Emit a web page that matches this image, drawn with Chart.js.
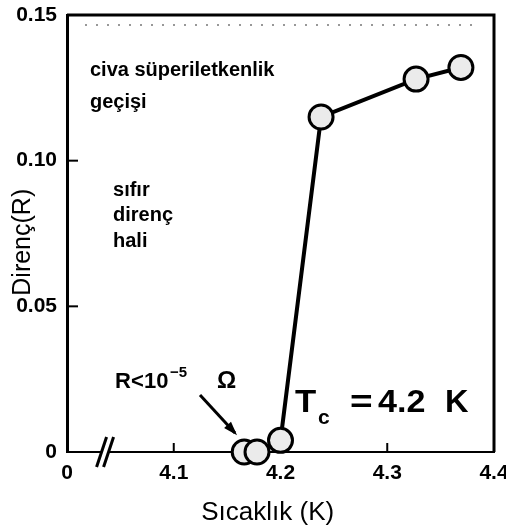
<!DOCTYPE html>
<html><head><meta charset="utf-8">
<script src="https://cdn.jsdelivr.net/npm/chart.js@4/dist/chart.umd.min.js"></script>
<style>html,body{margin:0;padding:0;background:#fff;}#wrap{width:506px;height:527px;}</style>
</head><body><div id="wrap"><canvas id="c" width="506" height="527"></canvas></div>
<script>
const temperatures = [4.166, 4.178, 4.200, 4.238, 4.327, 4.369];
const resistances = [0.000, 0.000, 0.004, 0.115, 0.128, 0.132];
const xTickValues = [4.0, 4.1, 4.2, 4.3, 4.4];
const xTickLabels = ['0', '4.1', '4.2', '4.3', '4.4'];
const yTickValues = [0, 0.05, 0.10, 0.15];
const yTickLabels = ['0', '0.05', '0.10', '0.15'];
const xTitle = 'Sıcaklık (K)';
const yTitle = 'Direnç(R)';
const noteTop = ['civa süperiletkenlik', 'geçişi'];
const noteZero = ['sıfır', 'direnç', 'hali'];

const FONT = "'Liberation Sans', Arial, sans-serif";

function stretched(ctx, text, x, y, sx) {
  ctx.save();
  ctx.translate(x, y);
  ctx.scale(sx, 1);
  ctx.fillText(text, 0, 0);
  ctx.restore();
}

const decor = {
  id: 'decor',
  beforeDatasetsDraw(chart) {
    const {ctx, chartArea: a, scales: {x, y}} = chart;
    ctx.save();
    ctx.strokeStyle = '#000';
    ctx.lineWidth = 3;
    ctx.beginPath();
    ctx.moveTo(a.left, a.top); ctx.lineTo(a.right, a.top); ctx.lineTo(a.right, a.bottom);
    ctx.stroke();
    ctx.strokeStyle = '#777'; ctx.lineWidth = 1.5; ctx.setLineDash([2, 9]);
    ctx.beginPath(); ctx.moveTo(a.left + 18, a.top + 10); ctx.lineTo(a.right - 14, a.top + 10); ctx.stroke();
    ctx.setLineDash([]);
    ctx.strokeStyle = '#000'; ctx.lineWidth = 2;
    yTickValues.slice(1, 3).forEach(v => {
      const py = y.getPixelForValue(v);
      ctx.beginPath(); ctx.moveTo(a.left, py); ctx.lineTo(a.left + 11, py); ctx.stroke();
    });
    xTickValues.slice(1, 4).forEach(v => {
      const px = x.getPixelForValue(v);
      ctx.beginPath(); ctx.moveTo(px, a.bottom); ctx.lineTo(px, a.bottom - 9); ctx.stroke();
    });
    const bx = x.getPixelForValue(4.038), by = a.bottom;
    ctx.fillStyle = '#fff';
    ctx.beginPath();
    ctx.moveTo(bx - 11, by + 15); ctx.lineTo(bx - 1, by - 15); ctx.lineTo(bx + 6, by - 15); ctx.lineTo(bx - 4, by + 15);
    ctx.closePath(); ctx.fill();
    ctx.lineWidth = 3;
    ctx.beginPath(); ctx.moveTo(bx - 11, by + 15); ctx.lineTo(bx - 1, by - 15); ctx.stroke();
    ctx.beginPath(); ctx.moveTo(bx - 4, by + 15); ctx.lineTo(bx + 6, by - 15); ctx.stroke();
    ctx.restore();
  },
  afterDraw(chart) {
    const {ctx, chartArea: a, scales: {x, y}} = chart;
    const X = v => x.getPixelForValue(v), Y = v => y.getPixelForValue(v);
    ctx.save();
    ctx.fillStyle = '#000';
    ctx.textBaseline = 'middle';
    ctx.textAlign = 'left';
    ctx.font = `bold 20px ${FONT}`;
    [0.1311, 0.1201].forEach((v, i) => ctx.fillText(noteTop[i], X(4.0215), Y(v)));
    [0.0899, 0.0813, 0.0721].forEach((v, i) => ctx.fillText(noteZero[i], X(4.0431), Y(v)));
    // R < 10^-5 Ω
    ctx.textBaseline = 'alphabetic';
    const rx = X(4.045), ry = Y(0.0220);
    ctx.font = `bold 22px ${FONT}`;
    ctx.fillText('R', rx, ry);
    ctx.fillText('<', rx + 16, ry);
    ctx.fillText('10', rx + 29, ry);
    ctx.font = `bold 15px ${FONT}`;
    ctx.fillText('−5', rx + 55, ry - 11);
    ctx.font = `bold 24px ${FONT}`;
    ctx.fillText('Ω', rx + 102, ry);
    // arrow
    const ax0 = X(4.1246), ay0 = Y(0.0196), ax1 = X(4.1574), ay1 = Y(0.0065);
    ctx.strokeStyle = '#000'; ctx.lineWidth = 3;
    ctx.beginPath(); ctx.moveTo(ax0, ay0); ctx.lineTo(ax1, ay1); ctx.stroke();
    const ang = Math.atan2(ay1 - ay0, ax1 - ax0);
    ctx.beginPath();
    ctx.moveTo(ax1 + 3 * Math.cos(ang), ay1 + 3 * Math.sin(ang));
    ctx.lineTo(ax1 - 12 * Math.cos(ang - 0.4), ay1 - 12 * Math.sin(ang - 0.4));
    ctx.lineTo(ax1 - 12 * Math.cos(ang + 0.4), ay1 - 12 * Math.sin(ang + 0.4));
    ctx.closePath(); ctx.fill();
    // Tc = 4.2 K
    const tx = X(4.2136), ty = Y(0.01373);
    ctx.font = `bold 31px ${FONT}`;
    stretched(ctx, 'T', tx, ty, 1.12);
    stretched(ctx, '=', tx + 55, ty, 1.25);
    stretched(ctx, '4.2', tx + 83, ty, 1.1);
    stretched(ctx, 'K', tx + 150, ty, 1.05);
    ctx.font = `bold 21px ${FONT}`;
    ctx.fillText('c', tx + 23, ty + 12);
    // axis titles
    ctx.textBaseline = 'middle';
    ctx.textAlign = 'center';
    ctx.font = `26px ${FONT}`;
    ctx.fillText(xTitle, X(4.188), a.bottom + 61);
    ctx.translate(23, Y(0.072));
    ctx.rotate(-Math.PI / 2);
    ctx.font = `25px ${FONT}`;
    ctx.fillText(yTitle, 0, 0);
    ctx.restore();
  }
};

new Chart(document.getElementById('c'), {
  type: 'scatter',
  data: {
    datasets: [{
      data: temperatures.map((t, i) => ({x: t, y: resistances[i]})),
      showLine: true,
      borderColor: '#000',
      borderWidth: 4,
      pointRadius: 12,
      pointBorderWidth: 3,
      pointBackgroundColor: '#ebebeb',
      pointBorderColor: '#000',
      clip: false
    }]
  },
  options: {
    responsive: false,
    animation: false,
    devicePixelRatio: 1,
    layout: {autoPadding: false, padding: {left: 0, right: 12, top: 15, bottom: 0}},
    plugins: {legend: {display: false}, tooltip: {enabled: false}},
    scales: {
      x: {
        type: 'linear', min: 4.0, max: 4.4,
        afterBuildTicks: s => { s.ticks = xTickValues.map(v => ({value: v})); },
        afterFit: s => { s.height = 75; s.paddingRight = 0; s.paddingLeft = 0; },
        ticks: {callback: (v, i) => xTickLabels[i], font: {family: FONT, size: 21, weight: 'bold'}, color: '#000', padding: 9, maxRotation: 0, autoSkip: false},
        grid: {display: false, drawTicks: false},
        border: {display: true, color: '#000', width: 2}
      },
      y: {
        type: 'linear', min: 0, max: 0.15,
        afterBuildTicks: s => { s.ticks = yTickValues.map(v => ({value: v})); },
        afterFit: s => { s.width = 67; s.paddingTop = 0; s.paddingBottom = 0; },
        ticks: {callback: (v, i) => yTickLabels[i], font: {family: FONT, size: 21, weight: 'bold'}, color: '#000', padding: 10, autoSkip: false},
        grid: {display: false, drawTicks: false},
        border: {display: true, color: '#000', width: 3}
      }
    }
  },
  plugins: [decor]
});
</script>
</body></html>
